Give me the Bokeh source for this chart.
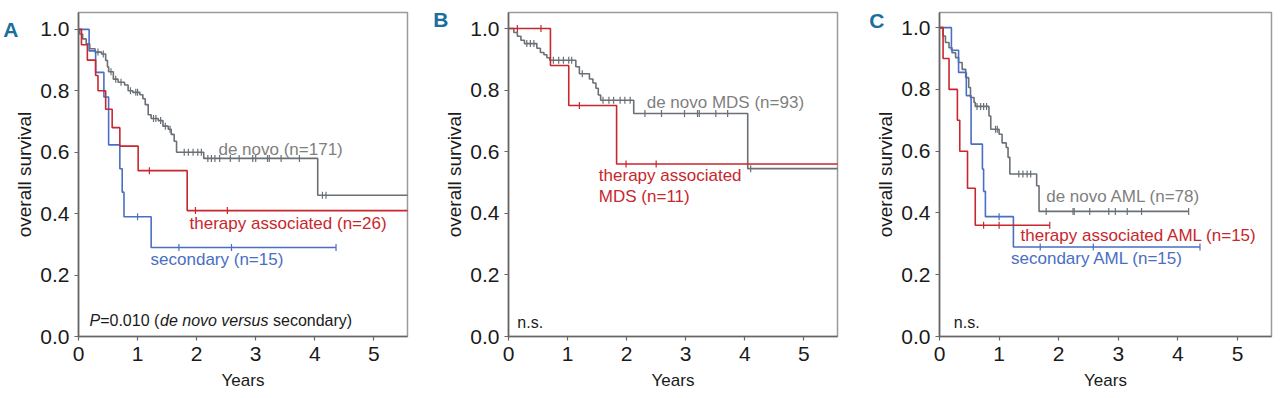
import numpy as np
from bokeh.plotting import figure
from bokeh.layouts import row
from bokeh.models import Range1d, FixedTicker, Label, LinearAxis
from bokeh.embed import file_html
from bokeh.resources import INLINE

# ---------------- data ----------------
x_ticks = [0, 1, 2, 3, 4, 5]
y_ticks = [0.0, 0.2, 0.4, 0.6, 0.8, 1.0]
y_tick_labels = ["0.0", "0.2", "0.4", "0.6", "0.8", "1.0"]
x_tick_labels = ["0", "1", "2", "3", "4", "5"]

# Panel A
A_denovo_t = [0.02, 0.07, 0.13, 0.19, 0.28, 0.39, 0.46, 0.49, 0.51, 0.59, 0.67, 0.78, 0.84, 0.92,
              1.04, 1.09, 1.13, 1.18, 1.23, 1.35, 1.43, 1.52, 1.57, 1.62, 1.66, 2.12, 4.05]
A_denovo_s = [0.985, 0.969, 0.953, 0.937, 0.926, 0.920, 0.899, 0.878, 0.862, 0.838, 0.828, 0.819, 0.800, 0.795,
              0.787, 0.774, 0.755, 0.722, 0.710, 0.703, 0.685, 0.675, 0.658, 0.636, 0.600, 0.580, 0.460]
A_denovo_end = 5.8
A_denovo_cens = [0.33, 0.42, 0.55, 0.63, 0.72, 0.88, 0.97, 1.0, 1.27, 1.31, 1.39, 1.47, 1.55,
                 1.79, 1.86, 1.94, 2.02, 2.08, 2.19, 2.25, 2.31, 2.39, 2.57, 2.72, 2.95, 3.0,
                 3.2, 3.23, 3.43, 3.74, 4.13, 4.19]

A_therapy_t = [0.05, 0.15, 0.29, 0.33, 0.46, 0.57, 0.70, 1.01, 1.84]
A_therapy_s = [0.95, 0.90, 0.85, 0.80, 0.74, 0.68, 0.62, 0.54, 0.41]
A_therapy_end = 5.8
A_therapy_cens = [1.20, 1.98, 2.52]

A_second_t = [0.18, 0.29, 0.43, 0.51, 0.70, 0.74, 0.77, 1.23]
A_second_s = [0.93, 0.86, 0.78, 0.624, 0.546, 0.47, 0.39, 0.29]
A_second_end = 4.36
A_second_cens = [1.0, 1.70, 2.59, 4.36]

# Panel B
B_denovo_t = [0.09, 0.15, 0.21, 0.27, 0.48, 0.54, 0.60, 0.65, 0.70, 1.14, 1.20, 1.37, 1.43, 1.48,
              1.52, 1.56, 2.12, 4.05]
B_denovo_s = [0.987, 0.975, 0.962, 0.951, 0.936, 0.922, 0.915, 0.905, 0.897, 0.876, 0.853, 0.836,
              0.823, 0.806, 0.784, 0.767, 0.724, 0.545]
B_denovo_end = 5.8
B_denovo_cens = [0.31, 0.37, 0.43, 0.76, 0.85, 0.93, 1.02, 1.07, 1.25, 1.60, 1.70, 1.78, 1.89, 1.97,
                 2.06, 2.31, 2.59, 2.98, 3.20, 3.23, 3.51, 3.71, 4.10]

B_therapy_t = [0.71, 1.02, 1.83]
B_therapy_s = [0.88, 0.75, 0.56]
B_therapy_end = 5.8
B_therapy_cens = [0.15, 0.55, 1.20, 1.99, 2.50]

# Panel C
C_denovo_t = [0.06, 0.10, 0.16, 0.21, 0.27, 0.32, 0.38, 0.44, 0.49, 0.52, 0.58, 0.60, 0.83, 0.86,
              1.00, 1.05, 1.12, 1.15, 1.18, 1.63, 1.67]
C_denovo_s = [0.973, 0.952, 0.935, 0.919, 0.903, 0.887, 0.865, 0.838, 0.806, 0.774, 0.758, 0.745,
              0.714, 0.671, 0.655, 0.627, 0.612, 0.580, 0.526, 0.488, 0.405]
C_denovo_end = 4.18
C_denovo_cens = [0.63, 0.69, 0.74, 0.79, 0.94, 0.97, 1.33, 1.40, 1.47, 1.53, 1.79, 2.24, 2.26,
                 2.52, 2.84, 2.95, 3.15, 3.39, 4.18]

C_therapy_t = [0.06, 0.16, 0.30, 0.34, 0.47, 0.60]
C_therapy_s = [0.90, 0.80, 0.70, 0.60, 0.48, 0.36]
C_therapy_end = 1.85
C_therapy_cens = [0.74, 1.00, 1.85]

C_second_t = [0.20, 0.32, 0.45, 0.53, 0.72, 0.74, 0.77, 1.24]
C_second_s = [0.927, 0.855, 0.78, 0.623, 0.542, 0.47, 0.388, 0.29]
C_second_end = 4.37
C_second_cens = [1.0, 1.69, 2.58, 4.37]

# ---------------- style ----------------
GRAY = "#6a7076"
GRAY_TXT = "#7f7f7f"
RED = "#c8272d"
BLUE = "#4a6ec4"
TEAL = "#1b6f9c"
INK = "#1a1a1a"
FONT = "Liberation Sans"
H = 398


def make_fig(width, bl, br, bt, frame_h, ymax, letter, letter_y, letter_stand):
    p = figure(width=width, height=H, output_backend="svg", toolbar_location=None,
               x_range=Range1d(0, 5.57), y_range=Range1d(0, ymax),
               min_border_left=bl, min_border_right=br, min_border_top=bt,
               min_border_bottom=H - bt - frame_h)
    p.grid.visible = False
    p.outline_line_color = "#9a9a9a"
    p.outline_line_width = 1.5
    p.background_fill_color = "white"
    p.border_fill_color = "white"
    p.xaxis.ticker = FixedTicker(ticks=x_ticks)
    p.yaxis.ticker = FixedTicker(ticks=y_ticks)
    p.xaxis.major_label_overrides = {float(t): l for t, l in zip(x_ticks, x_tick_labels)}
    p.yaxis.major_label_overrides = {float(t): l for t, l in zip(y_ticks, y_tick_labels)}
    for ax in (p.xaxis, p.yaxis):
        ax.axis_line_color = "#666666"
        ax.axis_line_width = 1.6
        ax.major_tick_line_color = "#666666"
        ax.major_tick_line_width = 1.2
        ax.major_tick_out = 4
        ax.major_tick_in = 0
        ax.minor_tick_out = 0
        ax.minor_tick_in = 0
        ax.major_label_text_font = FONT
        ax.major_label_text_font_size = "21px"
        ax.major_label_text_color = INK
        ax.axis_label_text_font = FONT
        ax.axis_label_text_font_style = "normal"
        ax.axis_label_text_color = INK
    p.xaxis.major_label_standoff = 6
    p.yaxis.major_label_standoff = 5
    p.xaxis.axis_label = "Years"
    p.xaxis.axis_label_text_font_size = "17px"
    p.xaxis.axis_label_standoff = 7
    p.yaxis.axis_label = "overall survival"
    p.yaxis.axis_label_text_font_size = "19px"
    p.yaxis.axis_label_standoff = 2
    # panel letter as an outer, line-less axis
    la = LinearAxis(ticker=FixedTicker(ticks=[letter_y]),
                    major_label_overrides={float(letter_y): letter},
                    axis_line_color=None, major_tick_line_color=None, minor_tick_line_color=None,
                    major_tick_out=0, major_tick_in=0, minor_tick_out=0, minor_tick_in=0,
                    major_label_standoff=letter_stand, major_label_text_font=FONT,
                    major_label_text_font_style="bold", major_label_text_color=TEAL,
                    major_label_text_font_size="21px")
    p.add_layout(la, "left")
    return p


def km(p, t, s, end, cens, color):
    xs = [0.0] + list(t) + [end]
    ys = [1.0] + list(s) + [s[-1]]
    p.step(xs, ys, mode="after", line_color=color, line_width=1.6)
    idx = np.searchsorted(np.array(t), np.array(cens), side="right")
    cy = [1.0 if i == 0 else s[i - 1] for i in idx]
    p.scatter(cens, cy, marker="dash", angle=np.pi / 2, size=7, line_color=color, line_width=1.2)


def lab(p, x, y, text, color, size="17px", style="normal", xoff=0):
    p.add_layout(Label(x=x, y=y, x_offset=xoff, text=text, text_color=color, text_font=FONT,
                       text_font_size=size, text_font_style=style,
                       text_align="left", text_baseline="middle"))


# ---------------- Panel A ----------------
pA = make_fig(425, 77, 18, 10, 328, 1.055, "A", 1.0, -7)
km(pA, A_denovo_t, A_denovo_s, A_denovo_end, A_denovo_cens, GRAY)
km(pA, A_second_t, A_second_s, A_second_end, A_second_cens, BLUE)
km(pA, A_therapy_t, A_therapy_s, A_therapy_end, A_therapy_cens, RED)
lab(pA, 2.37, 0.61, "de novo (n=171)", GRAY_TXT)
lab(pA, 1.88, 0.369, "therapy associated (n=26)", RED)
lab(pA, 1.22, 0.251, "secondary (n=15)", BLUE)
lab(pA, 0.186, 0.052, "P", INK, "16px", "italic", 0)
lab(pA, 0.186, 0.052, "=0.010 (", INK, "16px", "normal", 10.7)
lab(pA, 0.186, 0.052, "de novo versus", INK, "16px", "italic", 70.5)
lab(pA, 0.186, 0.052, "secondary)", INK, "16px", "normal", 183.5)

# ---------------- Panel B ----------------
pB = make_fig(435, 83, 23, 10, 326, 1.052, "B", 1.029, -7)
km(pB, B_denovo_t, B_denovo_s, B_denovo_end, B_denovo_cens, GRAY)
km(pB, B_therapy_t, B_therapy_s, B_therapy_end, B_therapy_cens, RED)
lab(pB, 2.34, 0.759, "de novo MDS (n=93)", GRAY_TXT)
lab(pB, 1.53, 0.523, "therapy associated", RED)
lab(pB, 1.53, 0.455, "MDS (n=11)", RED)
lab(pB, 0.15, 0.046, "n.s.", INK, "16px")

# ---------------- Panel C ----------------
pC = make_fig(414, 79, 3, 12, 324, 1.049, "C", 1.023, -12)
km(pC, C_denovo_t, C_denovo_s, C_denovo_end, C_denovo_cens, GRAY)
km(pC, C_second_t, C_second_s, C_second_end, C_second_cens, BLUE)
km(pC, C_therapy_t, C_therapy_s, C_therapy_end, C_therapy_cens, RED)
lab(pC, 1.79, 0.453, "de novo AML (n=78)", GRAY_TXT)
lab(pC, 1.36, 0.327, "therapy associated AML (n=15)", RED)
lab(pC, 1.20, 0.253, "secondary AML (n=15)", BLUE)
lab(pC, 0.24, 0.046, "n.s.", INK, "16px")

layout = row(pA, pB, pC)
open("out.html", "w").write(file_html(layout, INLINE))
